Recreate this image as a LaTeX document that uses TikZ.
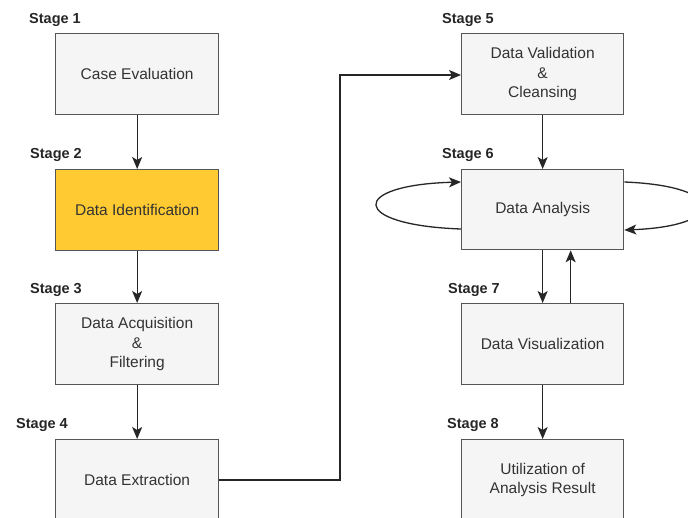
\documentclass[tikz,border=0pt]{standalone}
\usepackage{fontspec}
\setmainfont{Liberation Sans}
\usetikzlibrary{arrows.meta,calc}
\definecolor{boxfill}{HTML}{F5F5F5}
\definecolor{boxline}{HTML}{555555}
\definecolor{txt}{HTML}{333333}
\definecolor{hilite}{HTML}{FFCA32}
\tikzset{
  stagebox/.style={draw=boxline, line width=1.3pt, fill=boxfill, text=txt,
    minimum width=163pt, minimum height=81pt, inner sep=0pt, anchor=north west,
    align=center, font=\fontsize{15.5}{19.5}\selectfont},
  stagelbl/.style={anchor=west, inner sep=0pt, font=\fontsize{14.5}{17}\selectfont\bfseries, text=black!85},
  conn/.style={line width=1.3pt, draw=black!85, -{Stealth[length=12pt,width=10pt,inset=3pt]}},
  plain/.style={line width=1.3pt, draw=black!85}
}
\begin{document}
\begin{tikzpicture}[x=1pt,y=-1pt]
\useasboundingbox (0,0) rectangle (688,517);
\fill[white] (0,0) rectangle (688,517);
\clip (0,0) rectangle (688,517);
% left column
\node[stagebox] (b1) at (55,33) {Case Evaluation};
\node[stagebox, fill=hilite] (b2) at (55,169) {Data Identification};
\node[stagebox] (b3) at (55,303) {Data Acquisition\\\&\\Filtering};
\node[stagebox] (b4) at (55,439) {Data Extraction};
% right column
\node[stagebox, minimum width=162pt] (b5) at (461,33) {Data Validation\\\&\\Cleansing};
\node[stagebox, minimum width=162pt, minimum height=80pt] (b6) at (461,169) {Data Analysis};
\node[stagebox, minimum width=162pt] (b7) at (461,303) {Data Visualization};
\node[stagebox, minimum width=162pt] (b8) at (461,439) {Utilization of\\Analysis Result};
% labels
\node[stagelbl] (l1) at (29,20) {Stage 1};
\node[stagelbl] (l2) at (30,155) {Stage 2};
\node[stagelbl] (l3) at (30,290) {Stage 3};
\node[stagelbl] (l4) at (16,425) {Stage 4};
\node[stagelbl] (l5) at (442,20) {Stage 5};
\node[stagelbl] (l6) at (442,155) {Stage 6};
\node[stagelbl] (l7) at (448,290) {Stage 7};
\node[stagelbl] (l8) at (447,425) {Stage 8};
% connectors
\draw[conn] (b1.south) -- (b2.north);
\draw[conn] (b2.south) -- (b3.north);
\draw[conn] (b3.south) -- (b4.north);
\coordinate (c1) at (340,480);
\coordinate (c2) at (340,75);
\draw[conn] (b4.east |- c1) -- (c1) -- (c2) -- (b5.west |- c2);
\draw[conn] (b5.south) -- (b6.north);
\draw[conn] (b6.south) -- (b7.north);
\draw[conn] ($(b7.north)+(28,0)$) -- ($(b6.south)+(28,0)$);
\draw[conn] (b7.south) -- (b8.north);
% self loops
\draw[conn] ($(b6.north west)+(0,60)$) .. controls (349,225) and (349,185) .. ($(b6.north west)+(0,13)$);
\draw[conn] ($(b6.north east)+(0,13)$) .. controls (728,186) and (728,226) .. ($(b6.north east)+(0,61)$);
\end{tikzpicture}
\end{document}
